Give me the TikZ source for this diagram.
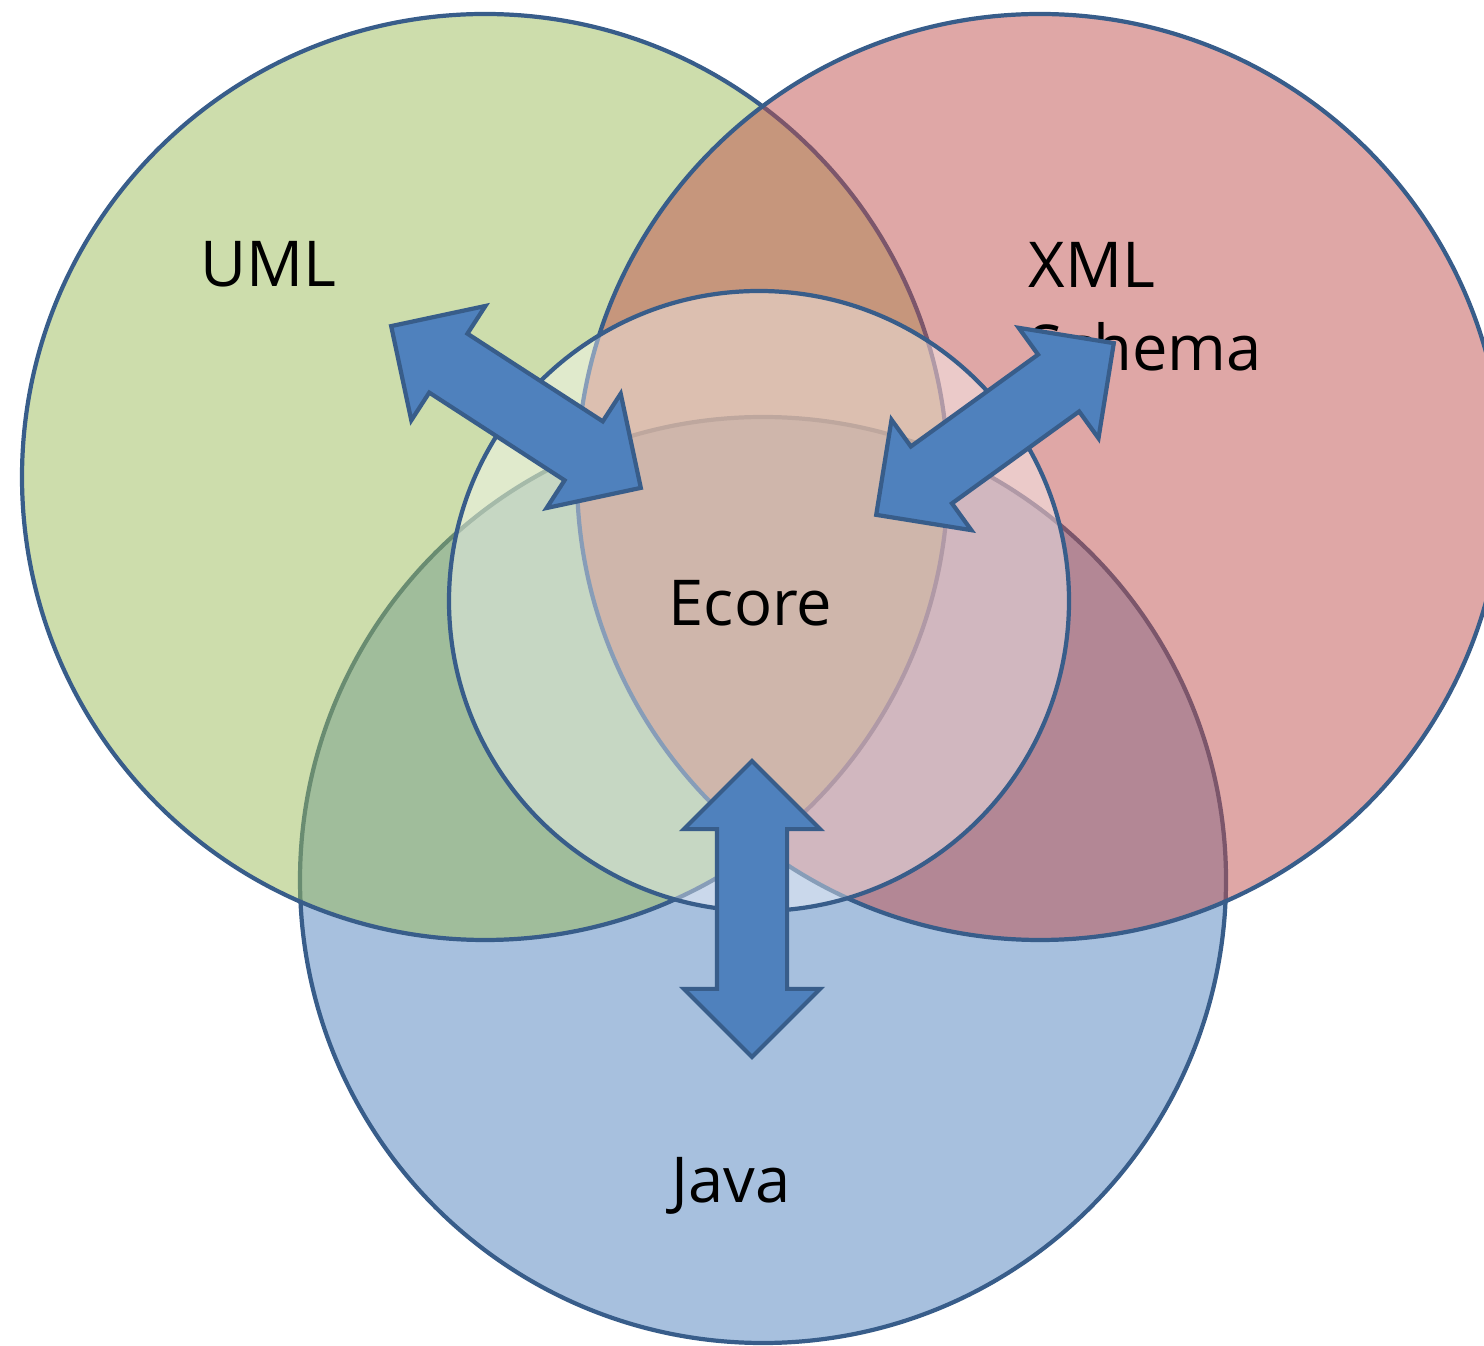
\documentclass[tikz,border=0pt]{standalone}
\usepackage{xcolor}
\usepackage{fontspec}
\setmainfont{Open Sans}
\usepackage{tikz}
\usetikzlibrary{calc}
\usetikzlibrary{shapes}
\usetikzlibrary{shapes.arrows}
\definecolor{umlgreen}{HTML}{9BBB59}
\definecolor{xmlred}{HTML}{C0504D}
\definecolor{javablue}{HTML}{4F81BD}
\definecolor{edge}{HTML}{385D8A}
\tikzset{set/.style = {circle, draw = edge, line width = 1.2pt, fill opacity = .5, minimum size = 9.26cm, inner sep = 0}}
\tikzset{core/.style = {circle, draw = edge, line width = 1.2pt, fill = white, fill opacity = .4, minimum size = 6.2cm, inner sep = 0}}
\tikzset{lbl/.style = {font = \fontsize{18}{23.6}\selectfont, inner sep = 0}}
\tikzset{twoway/.style = {double arrow, draw = edge, fill = javablue, line width = 1.2pt, inner xsep = 0, inner ysep = .33cm, double arrow head extend = .33cm, double arrow tip angle = 90, minimum width = 0pt}}

\begin{document}
\begin{tikzpicture}
\useasboundingbox (0, 0) rectangle (14.84, 13.45);
% the three sets, then the core on top
\node [set, fill = javablue] (java) at (7.63, 4.65) {};
\node [set, fill = umlgreen] (uml) at (4.85, 8.68) {};
\node [set, fill = xmlred] (xml) at (10.40, 8.68) {};
\node [core] (ecore) at (7.59, 7.44) {};
% labels
\node [lbl, anchor = base] (umltext) at (2.685, 10.58) {UML};
\node [lbl, anchor = north west, align = left] (xmltext) at (10.28, 11.03) {XML\\Schema};
\node [lbl, anchor = base] (ecoretext) at (7.505, 7.19) {Ecore};
\node [lbl, anchor = base] (javatext) at (7.31, 1.43) {Java};
% arrow ends
\coordinate (u1) at (3.91, 10.19);
\coordinate (u2) at (6.41, 8.57);
\coordinate (x1) at (11.14, 10.02);
\coordinate (x2) at (8.76, 8.30);
\coordinate (j1) at (7.52, 5.84);
\coordinate (j2) at (7.52, 2.88);
\path let \p1 = ($(u2)-(u1)$), \n1 = {atan2(\y1,\x1)}, \n2 = {veclen(\x1,\y1)} in node [twoway, minimum height = \n2, rotate = \n1] (umlarrow) at ($(u1)!.5!(u2)$) {};
\path let \p1 = ($(x2)-(x1)$), \n1 = {atan2(\y1,\x1)}, \n2 = {veclen(\x1,\y1)} in node [twoway, minimum height = \n2, rotate = \n1] (xmlarrow) at ($(x1)!.5!(x2)$) {};
\path let \p1 = ($(j2)-(j1)$), \n1 = {atan2(\y1,\x1)}, \n2 = {veclen(\x1,\y1)} in node [twoway, minimum height = \n2, rotate = \n1] (javaarrow) at ($(j1)!.5!(j2)$) {};
\end{tikzpicture}
\end{document}
